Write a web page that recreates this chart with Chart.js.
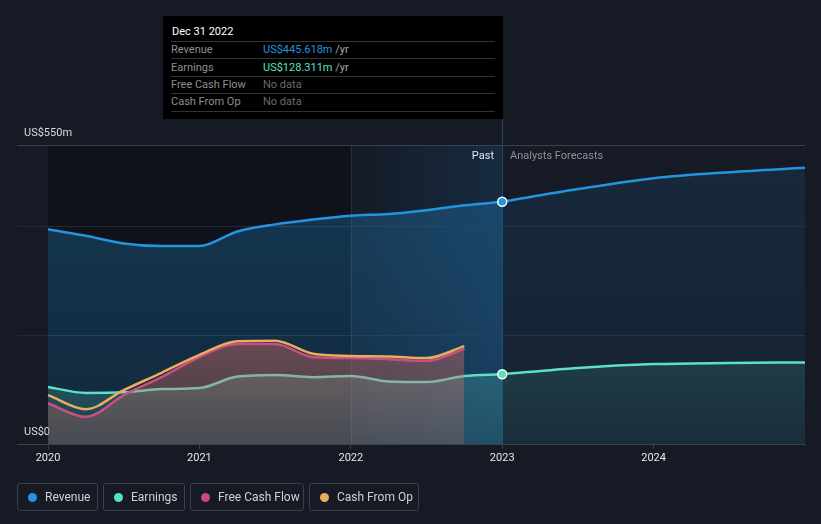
<!DOCTYPE html>
<html><head><meta charset="utf-8">
<script src="https://cdn.jsdelivr.net/npm/chart.js@4.4.0/dist/chart.umd.min.js"></script>
<style>
html,body{margin:0;padding:0;background:#151a24;width:821px;height:524px;overflow:hidden;font-family:Roboto,"Noto Sans",sans-serif;}
#wrap{position:relative;width:821px;height:524px;}
#c{position:absolute;left:0;top:0;}
.tip{position:absolute;left:163px;top:16px;width:340px;height:103px;background:#000;font-size:11px;}
.tip div{position:absolute;line-height:14px;white-space:nowrap;}
.tip .sep{height:1px;background:#333;left:8px;width:324px;}
.tip .lab{left:8px;color:#8e8e8e;}
.tip .val{left:100px;color:#6b6b6b;}
.yr{color:#a8a8a8;}
.ann{position:absolute;font-size:11px;line-height:14px;white-space:nowrap;}
.legend{position:absolute;left:17px;top:483px;display:flex;gap:5px;}
.legend .it{height:28px;border:1px solid #3a3f4a;border-radius:3px;display:flex;align-items:center;padding:0 0 0 10px;color:#cdd1d8;font-size:12px;box-sizing:border-box;}
.legend .dot{width:9px;height:9px;border-radius:50%;margin-right:8px;}
</style>
</head><body>
<div id="wrap">
<canvas id="c" width="821" height="524"></canvas>
<div class="tip">
  <div style="left:9px;top:9px;color:#fff;">Dec 31 2022</div>
  <div class="sep" style="top:25px"></div>
  <div class="lab" style="top:27px">Revenue</div>
  <div class="val" style="top:27px"><span style="color:#2394df">US$445.618m</span><span class="yr"> /yr</span></div>
  <div class="sep" style="top:42px"></div>
  <div class="lab" style="top:45px">Earnings</div>
  <div class="val" style="top:45px"><span style="color:#58e2c2">US$128.311m</span><span class="yr"> /yr</span></div>
  <div class="sep" style="top:60px"></div>
  <div class="lab" style="top:62px">Free Cash Flow</div>
  <div class="val" style="top:62px">No data</div>
  <div class="sep" style="top:77px"></div>
  <div class="lab" style="top:79px">Cash From Op</div>
  <div class="val" style="top:79px">No data</div>
  <div class="sep" style="top:95px"></div>
</div>
<div class="ann" style="right:327px;top:149px;color:#e6e6e6;">Past</div>
<div class="ann" style="left:510px;top:149px;color:#8b9099;">Analysts Forecasts</div>
<div class="legend">
  <div class="it" style="width:81px"><span class="dot" style="background:#2394df"></span>Revenue</div>
  <div class="it" style="width:82px"><span class="dot" style="background:#58e2c2"></span>Earnings</div>
  <div class="it" style="width:114px"><span class="dot" style="background:#c9467f"></span>Free Cash Flow</div>
  <div class="it" style="width:110px"><span class="dot" style="background:#e9ad5e"></span>Cash From Op</div>
</div>
</div>
<script>
// ---- data (US$ millions, x = decimal year) ----
const pastYears = [2020, 2020.25, 2020.5, 2020.75, 2021, 2021.25, 2021.5, 2021.75, 2022, 2022.25, 2022.5, 2022.75, 2023];
const revenuePast = [395, 383, 369, 364, 364, 391, 404, 413, 420, 423, 430, 439, 445.618];
const earningsPast = [105, 94, 95, 101, 103, 124, 127, 123, 125, 115, 114, 125, 128.311];
const cashYears = [2020, 2020.25, 2020.5, 2020.75, 2021, 2021.25, 2021.5, 2021.75, 2022, 2022.25, 2022.5, 2022.75];
const freeCashFlow = [75, 50, 90, 123, 160, 184, 184, 160, 158, 156, 153, 175];
const cashFromOp = [90, 64, 99, 131, 164, 189, 190, 166, 162, 161, 158, 180];
const forecastYears = [2023, 2023.5, 2024, 2024.5, 2025];
const revenueForecast = [445.618, 469, 489, 500, 508];
const earningsForecast = [128.311, 140, 147, 149, 150];
const xTicks = [2020, 2021, 2022, 2023, 2024];
const xTickLabels = ['2020', '2021', '2022', '2023', '2024'];
const yTicks = [0, 200, 400, 550];
const yTickLabels = ['US$0', '', '', 'US$550m'];
const nowYear = 2023, highlightStart = 2022, shadeStart = 2020;
const xMin = 2019.795, xMax = 2025;

const pts = (xs, ys) => xs.map((x, i) => ({x, y: ys[i]}));

function vgrad(r, g, b, aTop, aBot, vTop) {
  return (c) => {
    const ch = c.chart, a = ch.chartArea;
    if (!a) return `rgba(${r},${g},${b},${aTop})`;
    const yTop = vTop == null ? a.top : ch.scales.y.getPixelForValue(vTop);
    const gr = ch.ctx.createLinearGradient(0, yTop, 0, a.bottom);
    gr.addColorStop(0, `rgba(${r},${g},${b},${aTop})`);
    gr.addColorStop(1, `rgba(${r},${g},${b},${aBot})`);
    return gr;
  };
}

const bgPlugin = {
  id: 'bgShade',
  beforeDraw(chart) {
    const {ctx, chartArea: a, scales: {x}} = chart;
    const xs = x.getPixelForValue(shadeStart), xh = x.getPixelForValue(highlightStart), xn = x.getPixelForValue(nowYear);
    ctx.save();
    ctx.fillStyle = 'rgba(0,0,0,0.28)';
    ctx.fillRect(xs, a.top, xh - xs, a.bottom - a.top);
    const g = ctx.createLinearGradient(xh, 0, xn, 0);
    g.addColorStop(0, 'rgba(30,110,180,0.02)');
    g.addColorStop(1, 'rgba(30,110,180,0.2)');
    ctx.fillStyle = g;
    ctx.fillRect(xh, a.top, xn - xh, a.bottom - a.top);
    ctx.restore();
  },
  beforeDatasetsDraw(chart) {
    const {ctx, chartArea: a, scales: {x}} = chart;
    const xh = Math.round(x.getPixelForValue(highlightStart)) + 0.5, xn = Math.round(x.getPixelForValue(nowYear)) + 0.5;
    ctx.save();
    ctx.lineWidth = 1;
    ctx.strokeStyle = 'rgba(60,90,120,0.35)';
    ctx.beginPath(); ctx.moveTo(xh, a.top); ctx.lineTo(xh, a.bottom); ctx.stroke();
    ctx.strokeStyle = '#1f4868';
    ctx.beginPath(); ctx.moveTo(xn, 119); ctx.lineTo(xn, a.bottom); ctx.stroke();
    ctx.restore();
  }
};

const lineBase = {borderWidth: 2.5, pointRadius: 0, pointHoverRadius: 0, cubicInterpolationMode: 'monotone', tension: 0.4};

new Chart(document.getElementById('c'), {
  type: 'line',
  data: {
    datasets: [
      {...lineBase, label: 'Revenue', data: pts(pastYears, revenuePast), borderColor: '#2394df', fill: 'origin', backgroundColor: vgrad(35, 148, 223, 0.30, 0.17), order: 6},
      {...lineBase, label: 'Revenue forecast', data: pts(forecastYears, revenueForecast), borderColor: '#2394df', fill: 'origin', backgroundColor: vgrad(35, 148, 223, 0.13, 0.07), order: 5},
      {...lineBase, label: 'Earnings', data: pts(pastYears, earningsPast), borderColor: '#5ce0c8', fill: 'origin', backgroundColor: vgrad(92, 224, 200, 0.22, 0.13, 140), order: 4},
      {...lineBase, label: 'Earnings forecast', data: pts(forecastYears, earningsForecast), borderColor: '#5ce0c8', fill: 'origin', backgroundColor: vgrad(92, 224, 200, 0.13, 0.06, 150), order: 3},
      {...lineBase, label: 'Free Cash Flow', data: pts(cashYears, freeCashFlow), borderColor: '#cc4f82', fill: 'origin', backgroundColor: vgrad(205, 108, 98, 0.46, 0.24, 190), order: 2},
      {...lineBase, label: 'Cash From Op', data: pts(cashYears, cashFromOp), borderColor: '#e9ad5e', fill: false, order: 1},
      {label: 'Now', data: [{x: nowYear, y: revenuePast[revenuePast.length - 1]}, {x: nowYear, y: earningsPast[earningsPast.length - 1]}],
       showLine: false, pointRadius: 4.5, pointBorderWidth: 1.5, pointBorderColor: '#ffffff',
       pointBackgroundColor: ['#2394df', '#58e2c2'], order: 0}
    ]
  },
  options: {
    responsive: false, animation: false, events: [],
    layout: {padding: {top: 145, left: 17, right: 16, bottom: 50}},
    plugins: {legend: {display: false}, tooltip: {enabled: false}},
    scales: {
      x: {
        type: 'linear', min: xMin, max: xMax,
        afterBuildTicks: (s) => { s.ticks = xTicks.map(v => ({value: v})); },
        afterFit: (s) => { s.height = 30; },
        ticks: {callback: (v) => xTickLabels[xTicks.indexOf(v)] ?? '', color: '#e6e6e6', font: {family: 'Roboto', size: 11}, padding: 3, maxRotation: 0, autoSkip: false},
        grid: {drawOnChartArea: false, drawTicks: true, tickLength: 5, color: '#3b404a'},
        border: {display: true, color: '#3b404a'}
      },
      y: {
        type: 'linear', min: 0, max: 550,
        afterBuildTicks: (s) => { s.ticks = yTicks.map(v => ({value: v})); },
        afterFit: (s) => { s.width = 0; },
        ticks: {mirror: true, padding: 7, labelOffset: -12, callback: (v) => yTickLabels[yTicks.indexOf(v)] ?? '', color: '#dcdcdc', font: {family: 'Roboto', size: 11}},
        grid: {drawTicks: false, color: (c) => (c.tick && (c.tick.value === 550 || c.tick.value === 0)) ? '#3b404a' : '#252b35'},
        border: {display: false}
      }
    }
  },
  plugins: [bgPlugin]
});
</script>
</body></html>
